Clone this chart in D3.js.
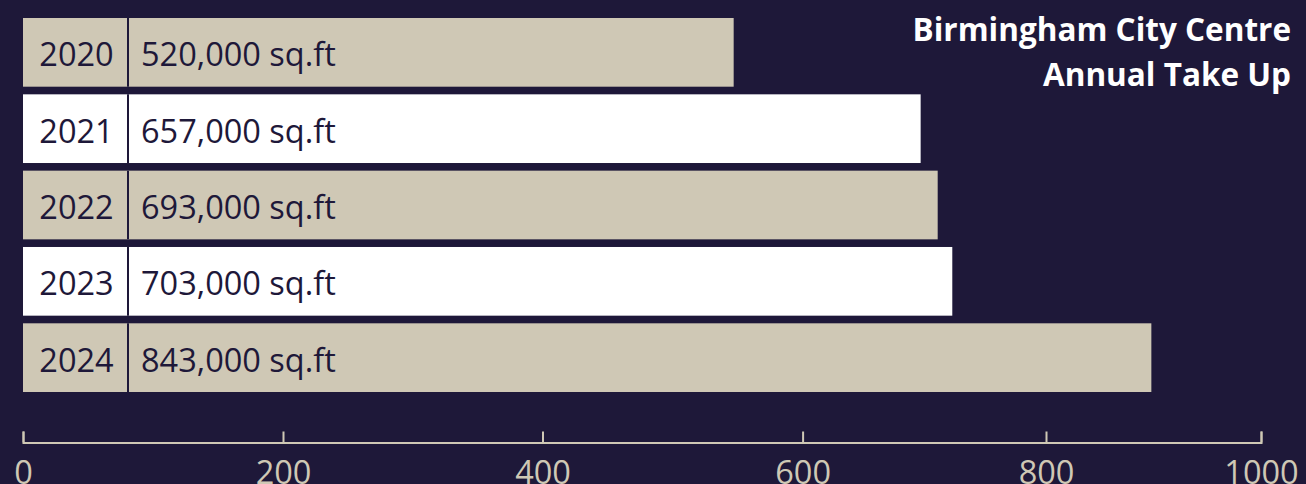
<!DOCTYPE html>
<html>
<head>
<meta charset="utf-8">
<script src="https://cdn.jsdelivr.net/npm/d3@7"></script>
<style>
  html, body { margin: 0; padding: 0; background: #1e1839; }
  svg { display: block; font-family: "Open Sans", sans-serif; }
</style>
</head>
<body>
<div id="chart"></div>
<script>
(function(d3) {
  'use strict';

  // data
  var years = ['2020', '2021', '2022', '2023', '2024'];
  var barValues = [547, 697, 711, 723, 898];
  var valueLabels = ['520,000 sq.ft', '657,000 sq.ft', '693,000 sq.ft', '703,000 sq.ft', '843,000 sq.ft'];
  var tickValues = [0, 200, 400, 600, 800, 1000];
  var titleLines = ['Birmingham City Centre', 'Annual Take Up'];

  var width = 1306;
  var height = 484;
  var navy = '#1e1839';
  var beige = '#cfc8b5';
  var fills = [beige, '#ffffff'];
  var yearBoxWidth = 105;
  var fontSize = 32.5;

  var dataset = years.map(function(y, i) {
    return { year: y, value: barValues[i], label: valueLabels[i] };
  });

  var svg = d3.select('#chart')
    .append('svg')
    .attr('width', width)
    .attr('height', height);

  // the axis in the picture is not evenly spaced, so follow its tick positions
  var x = d3.scaleLinear()
    .domain(tickValues)
    .range([23, 283, 542.5, 802.6, 1046, 1261]);

  var y = d3.scaleBand()
    .domain(years)
    .range([18, 392])
    .paddingInner(0.1)
    .paddingOuter(0);

  var rows = svg.selectAll('.row')
    .data(dataset)
    .enter()
    .append('g')
    .attr('class', 'row')
    .attr('transform', function(d) { return 'translate(0,' + y(d.year) + ')'; });

  rows.append('rect')
    .attr('x', x(0))
    .attr('width', function(d) { return x(d.value) - x(0); })
    .attr('height', y.bandwidth())
    .attr('fill', function(d, i) { return fills[i % 2]; });

  rows.append('line')
    .attr('x1', x(0) + yearBoxWidth)
    .attr('x2', x(0) + yearBoxWidth)
    .attr('y1', 0)
    .attr('y2', y.bandwidth())
    .attr('stroke', navy)
    .attr('stroke-width', 2);

  rows.append('text')
    .attr('x', x(0) + yearBoxWidth / 2 + 1)
    .attr('y', y.bandwidth() / 2 + 14)
    .attr('text-anchor', 'middle')
    .attr('fill', navy)
    .style('font-size', fontSize + 'px')
    .text(function(d) { return d.year; });

  rows.append('text')
    .attr('x', x(0) + yearBoxWidth + 13)
    .attr('y', y.bandwidth() / 2 + 14)
    .attr('fill', navy)
    .style('font-size', fontSize + 'px')
    .text(function(d) { return d.label; });

  // title
  svg.append('g')
    .selectAll('text')
    .data(titleLines)
    .enter()
    .append('text')
    .attr('x', 1291)
    .attr('y', function(d, i) { return 41 + i * 45; })
    .attr('text-anchor', 'end')
    .attr('fill', '#ffffff')
    .style('font-size', '31.5px')
    .style('font-weight', 700)
    .text(function(d) { return d; });

  // axis
  var axis = d3.axisBottom(x)
    .tickValues(tickValues)
    .tickSizeInner(-11)
    .tickSizeOuter(-11)
    .tickPadding(18)
    .tickFormat(d3.format('d'));

  var gAxis = svg.append('g')
    .attr('transform', 'translate(0,442.5)')
    .call(axis);

  gAxis.select('.domain')
    .attr('stroke', beige)
    .attr('stroke-width', 2);
  gAxis.selectAll('.tick line')
    .attr('stroke', beige)
    .attr('stroke-width', 2);
  gAxis.selectAll('.tick text')
    .attr('fill', beige)
    .style('font-size', fontSize + 'px')
    .style('font-family', '"Open Sans", sans-serif');

})(window.d3);
</script>
</body>
</html>
